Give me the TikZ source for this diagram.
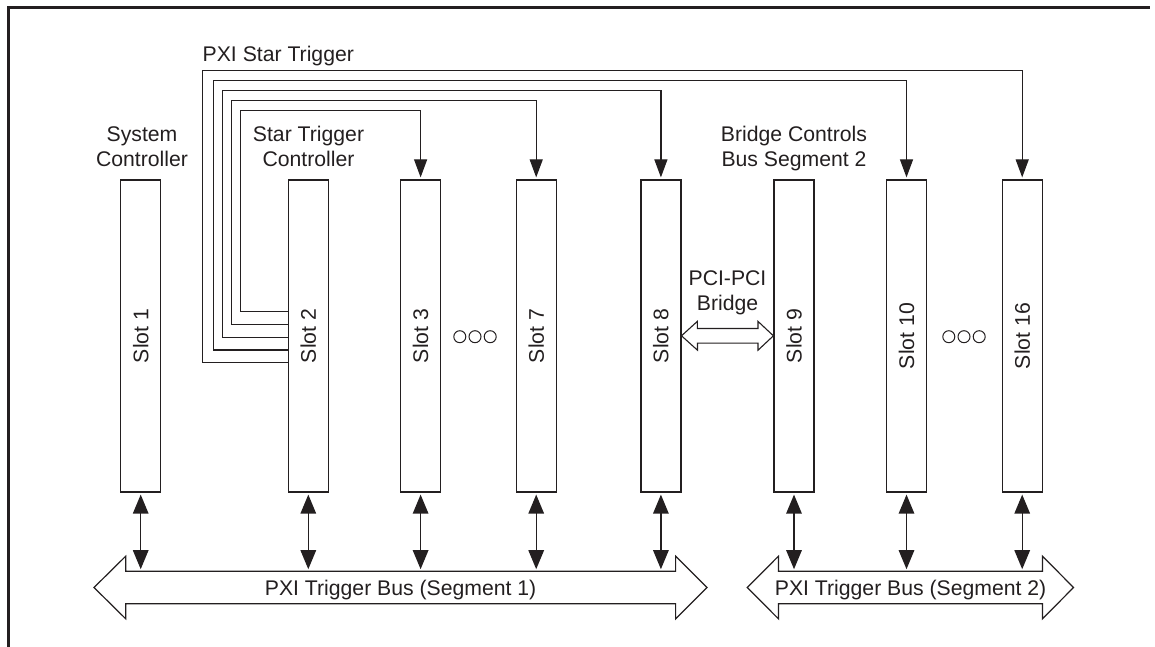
\documentclass[tikz,border=0pt]{standalone}
\usepackage{fontspec}
\setmainfont{Liberation Sans}
\usetikzlibrary{arrows.meta}
\definecolor{ink}{RGB}{35,31,32}
\begin{document}
\begin{tikzpicture}[x=1pt,y=-1pt,
  every node/.style={font=\fontsize{21.2}{25}\selectfont, text=ink},
  slotbox/.style={draw=ink, line width=1.2pt, minimum width=40pt, minimum height=312pt, inner sep=0pt, fill=white},
  slottext/.style={rotate=90, inner sep=0pt},
  star/.style={draw=ink, line width=1.2pt},
  startip/.style={star, -{Triangle[length=18pt,width=13pt]}, shorten >=2pt},
  busconn/.style={draw=ink, line width=1.3pt, {Triangle[length=19pt,width=15.5pt]}-{Triangle[length=19pt,width=15.5pt]}, shorten <=2pt, shorten >=2pt},
  busshape/.style={draw=ink, line width=1.2pt, fill=white, line join=miter},
  caption/.style={align=center, inner sep=0pt, anchor=north},
  dotc/.style={circle, draw=ink, line width=1pt, minimum size=12pt, inner sep=0pt}
]
\useasboundingbox (0,0) rectangle (1155,647);
% frame
\draw[ink, line width=2.6pt] (8.7,647) -- (8.7,7.5) -- (1150,7.5);

% slots
\node[slotbox, label={[slottext]center:Slot 1}] (s1) at (140.7,336) {};
\node[slotbox, label={[slottext]center:Slot 2}] (s2) at (308.3,336) {};
\node[slotbox, label={[slottext]center:Slot 3}] (s3) at (420.6,336) {};
\node[slotbox, label={[slottext]center:Slot 7}] (s7) at (536.2,336) {};
\node[slotbox, label={[slottext]center:Slot 8}] (s8) at (660.9,336) {};
\node[slotbox, label={[slottext]center:Slot 9}] (s9) at (794,336) {};
\node[slotbox, label={[slottext]center:Slot 10}] (s10) at (906.5,336) {};
\node[slotbox, label={[slottext]center:Slot 16}] (s16) at (1022.2,336) {};

% dots
\node[dotc] (d1) at (459.8,336.7) {};
\node[dotc] (d2) at (475,336.7) {};
\node[dotc] (d3) at (490.2,336.7) {};
\node[dotc] (d4) at (948.8,336.7) {};
\node[dotc] (d5) at (964,336.7) {};
\node[dotc] (d6) at (979.2,336.7) {};

% captions
\node[caption] (sysc) at (142,126.3) {System\\Controller};
\node[caption] (stc) at (308.5,126.3) {Star Trigger\\Controller};
\node[caption] (bcs) at (794,126.3) {Bridge Controls\\Bus Segment 2};
\node[caption] (pcib) at (727.5,270.2) {PCI-PCI\\Bridge};
\node[anchor=base west, inner sep=0pt] (pst) at (202.5,62) {PXI Star Trigger};

% star trigger lines
\coordinate (l1) at (240.7,311.7); \coordinate (u1) at (240.7,110.2);
\coordinate (l2) at (231.5,324.8); \coordinate (u2) at (231.5,100.6);
\coordinate (l3) at (222.8,337.4); \coordinate (u3) at (222.8,90.8);
\coordinate (l4) at (213.6,350.0); \coordinate (u4) at (213.6,80.7);
\coordinate (l5) at (202.7,362.7); \coordinate (u5) at (202.7,70.2);
\draw[startip] (s2.west |- l1) -- (l1) -- (u1) -| (s3.north);
\draw[startip] (s2.west |- l2) -- (l2) -- (u2) -| (s7.north);
\draw[startip] (s2.west |- l3) -- (l3) -- (u3) -| (s8.north);
\draw[startip] (s2.west |- l4) -- (l4) -- (u4) -| (s10.north);
\draw[startip] (s2.west |- l5) -- (l5) -- (u5) -| (s16.north);

% bridge arrow
\draw[busshape, line width=1.1pt] (s8.east |- 0,335.8) -- ++(15.8,-14.4) -- ++(0,7.1) -- (758,328.5) -- ++(0,-7.1) -- (s9.west |- 0,335.8) -- (758,350.2) -- ++(0,-7.1) -- (697.5,343.1) -- ++(0,7.1) -- cycle;

% buses
\draw[busshape] (94,587.5) -- (125.7,556.2) -- (125.7,571.2) -- (675.6,571.2) -- (675.6,556.2) -- (707,587.5) -- (675.6,618.8) -- (675.6,603.8) -- (125.7,603.8) -- (125.7,618.8) -- cycle;
\draw[busshape] (747.3,587.5) -- (778.4,556.2) -- (778.4,571.2) -- (1042.5,571.2) -- (1042.5,556.2) -- (1073.5,587.5) -- (1042.5,618.8) -- (1042.5,603.8) -- (778.4,603.8) -- (778.4,618.8) -- cycle;
\node[anchor=base, inner sep=0pt] (bus1) at (400.6,595) {PXI Trigger Bus (Segment 1)};
\node[anchor=base, inner sep=0pt] (bus2) at (910.6,595) {PXI Trigger Bus (Segment 2)};
\coordinate (b1) at (0,571.2);

% slot-bus connectors
\foreach \s in {s1,s2,s3,s7,s8,s9,s10,s16}
  \draw[busconn] (\s.south) -- (\s.south |- b1);
\end{tikzpicture}
\end{document}
